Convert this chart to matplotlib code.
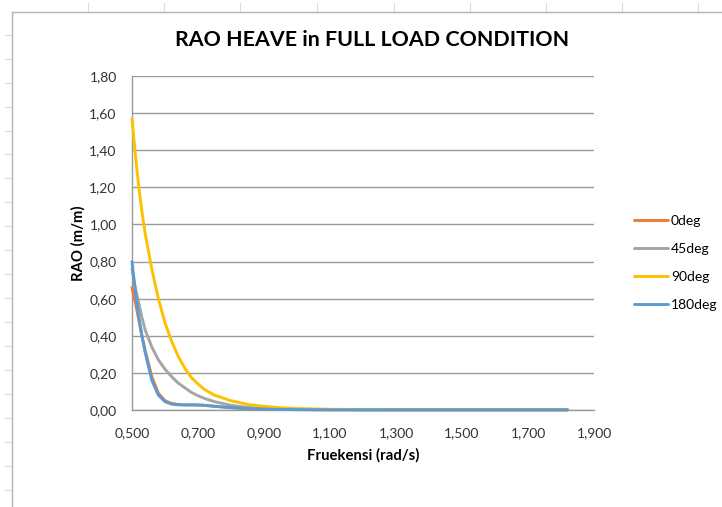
import matplotlib
matplotlib.use("Agg")
import matplotlib.pyplot as plt
from matplotlib.lines import Line2D
from matplotlib.ticker import FuncFormatter

plt.rcParams['font.family'] = ['Lato', 'DejaVu Sans']

# Wave frequency (rad/s)
freq = [0.50, 0.51, 0.52, 0.53, 0.54, 0.56, 0.58, 0.60, 0.62, 0.64, 0.66, 0.68, 0.70,
        0.72, 0.75, 0.80, 0.85, 0.90, 0.95, 1.00, 1.10, 1.20, 1.30, 1.40,
        1.50, 1.60, 1.70, 1.82]

# Heave RAO (m/m) for each heading
rao_0 = [0.66, 0.58, 0.49, 0.40, 0.32, 0.18, 0.09, 0.05, 0.035, 0.030, 0.028, 0.027, 0.027,
         0.025, 0.020, 0.012, 0.007, 0.004, 0.003, 0.002, 0.001, 0.001, 0.001,
         0.001, 0.001, 0.001, 0.001, 0.001]
rao_45 = [0.76, 0.66, 0.58, 0.50, 0.43, 0.34, 0.27, 0.22, 0.18, 0.145, 0.12, 0.095, 0.077,
          0.062, 0.045, 0.025, 0.014, 0.008, 0.005, 0.003, 0.002, 0.001, 0.001,
          0.001, 0.001, 0.001, 0.001, 0.001]
rao_90 = [1.57, 1.38, 1.21, 1.07, 0.95, 0.76, 0.60, 0.47, 0.37, 0.29, 0.225, 0.175, 0.14,
          0.11, 0.08, 0.05, 0.03, 0.02, 0.012, 0.008, 0.004, 0.002, 0.001,
          0.001, 0.001, 0.001, 0.001, 0.001]
rao_180 = [0.80, 0.64, 0.51, 0.40, 0.31, 0.16, 0.08, 0.045, 0.032, 0.028, 0.027, 0.028, 0.027,
           0.025, 0.020, 0.013, 0.008, 0.005, 0.003, 0.002, 0.001, 0.001, 0.001,
           0.001, 0.001, 0.001, 0.001, 0.001]

series_labels = ['0deg', '45deg', '90deg', '180deg']
x_ticks = [0.5, 0.7, 0.9, 1.1, 1.3, 1.5, 1.7, 1.9]
y_ticks = [0.0, 0.2, 0.4, 0.6, 0.8, 1.0, 1.2, 1.4, 1.6, 1.8]

colors = ['#ED7D31', '#A5A5A5', '#FFC000', '#5B9BD5']

W, H = 722, 507
fig = plt.figure(figsize=(W / 100, H / 100), dpi=100)
fig.patch.set_facecolor('white')

def fx(px):
    return px / W

def fy(py):
    return 1 - py / H

# Worksheet cell lines around the embedded chart
cell_color = '#dcdcdc'
for px in [88, 164, 240, 317, 394, 470, 546, 622, 698]:
    fig.add_artist(Line2D([fx(px), fx(px)], [fy(3), fy(11)], color=cell_color, lw=0.8))
for py in [35, 59, 83, 107, 131, 154, 178, 202, 226, 250, 274, 298, 322, 346,
           370, 394, 418, 442, 466, 490]:
    fig.add_artist(Line2D([fx(5), fx(11)], [fy(py), fy(py)], color=cell_color, lw=0.8))

# Chart area border
border = '#b4b4b4'
fig.add_artist(Line2D([fx(12), fx(W)], [fy(12), fy(12)], color=border, lw=1.0))
fig.add_artist(Line2D([fx(12), fx(12)], [fy(12), fy(H)], color=border, lw=1.0))

ax = fig.add_axes([132 / W, 1 - 410 / H, (594 - 132) / W, (410 - 76) / H])

series = [rao_0, rao_45, rao_90, rao_180]
for vals, lab, c in zip(series, series_labels, colors):
    ax.plot(freq, vals, color=c, lw=2.1, label=lab, solid_joinstyle='round',
            solid_capstyle='round', clip_on=False, zorder=3)

ax.set_xlim(0.5, 1.9)
ax.set_ylim(0, 1.8)
ax.set_xticks(x_ticks)
ax.set_yticks(y_ticks)
ax.xaxis.set_major_formatter(FuncFormatter(lambda v, p: f"{v:.3f}".replace('.', ',')))
ax.yaxis.set_major_formatter(FuncFormatter(lambda v, p: f"{v:.2f}".replace('.', ',')))
ax.tick_params(axis='both', length=0, labelsize=10, colors='#333333')
ax.tick_params(axis='y', pad=11)
ax.tick_params(axis='x', pad=12)

ax.grid(axis='y', color='#9a9a9a', lw=1.0)
ax.set_axisbelow(True)
for side in ['top', 'right']:
    ax.spines[side].set_visible(False)
for side in ['left', 'bottom']:
    ax.spines[side].set_color('#9a9a9a')
    ax.spines[side].set_linewidth(1.0)

ax.set_xlabel('Fruekensi (rad/s)', fontsize=10.7, fontweight='bold', labelpad=7)
ax.set_ylabel('RAO (m/m)', fontsize=10.7, fontweight='bold', labelpad=3)

fig.text(fx(372), fy(40), 'RAO HEAVE in FULL LOAD CONDITION', ha='center',
         va='center', fontsize=15.4, fontweight='bold', color='black')

leg = ax.legend(loc='center left', bbox_to_anchor=((628 - 132) / (594 - 132), 0.5 - (263 - 243) / 334),
                frameon=False, fontsize=10, handlelength=2.5, handletextpad=0.2,
                labelspacing=1.15, borderaxespad=0)

fig.savefig('out.png', dpi=100, facecolor='white')
